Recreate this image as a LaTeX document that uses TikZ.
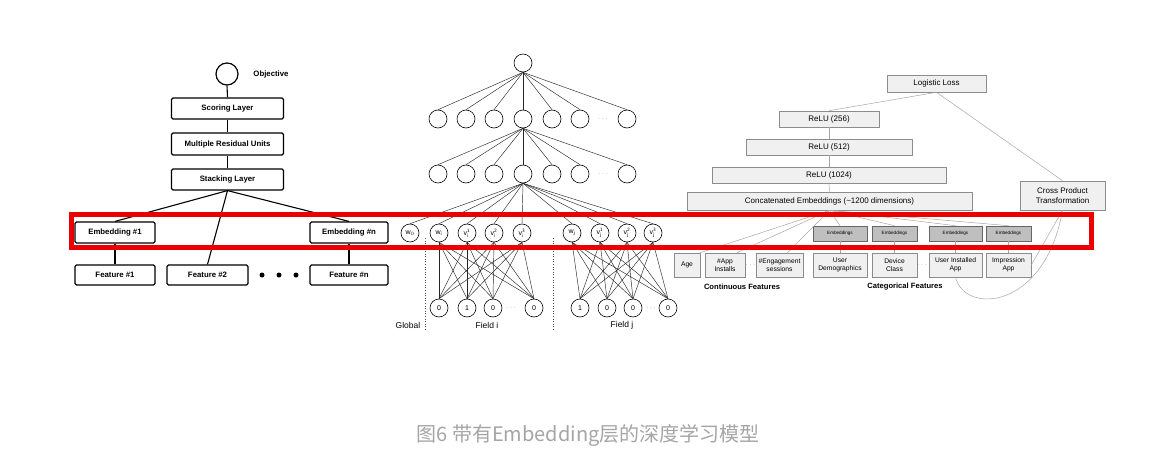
\documentclass[tikz,border=0pt]{standalone}
\usepackage{fontspec}
\setmainfont{Liberation Sans}
\newfontfamily\cjk{Noto Sans CJK SC}
\definecolor{capgray}{RGB}{165,165,165}
\definecolor{redframe}{RGB}{235,0,0}
\begin{document}
\begin{tikzpicture}[x=1pt,y=-1pt,
 dc/.style={draw,line width=1.2pt,rounded corners=1.5pt,font=\bfseries\fontsize{7.8}{9}\selectfont,inner sep=0pt,fill=white},
 dcline/.style={line width=1.1pt},
 nn/.style={draw,circle,minimum size=18pt,inner sep=0pt,line width=0.6pt,font=\fontsize{7}{7}\selectfont},
 fnnline/.style={line width=0.45pt,black!85},
 wd/.style={draw=black!45,fill=black!6,inner sep=0pt,font=\fontsize{8}{9.5}\selectfont,align=center,line width=0.6pt},
 wdf/.style={wd,font=\fontsize{6.7}{7.8}\selectfont,minimum height=24pt},
 wde/.style={draw=black!60,fill=black!25,inner sep=0pt,font=\fontsize{4.6}{5}\selectfont,minimum height=15pt,line width=0.6pt},
 wdline/.style={draw=black!35,line width=0.5pt},
 lbl/.style={inner sep=0pt},
 dotsym/.style={inner sep=0pt,text=black!50,font=\fontsize{7}{7}\selectfont}
]
\useasboundingbox (0,0) rectangle (1151,460);

% ---------------- Deep Crossing ----------------
\node[draw,circle,line width=1.2pt,minimum size=22pt,inner sep=0pt] (obj) at (227,74) {};
\node[lbl,font=\bfseries\fontsize{7.8}{9}\selectfont] (objl) at (271,74) {Objective};
\node[dc,minimum width=112pt,minimum height=21pt] (score) at (227.5,108.5) {Scoring Layer};
\node[dc,minimum width=112pt,minimum height=22pt] (mru) at (227.5,144) {Multiple Residual Units};
\node[dc,minimum width=112pt,minimum height=21pt] (stack) at (227.5,179.5) {Stacking Layer};
\node[dc,minimum width=80pt,minimum height=21pt] (emb1) at (115,232.5) {Embedding \#1};
\node[dc,minimum width=78pt,minimum height=21pt] (embn) at (349,232.5) {Embedding \#n};
\node[dc,minimum width=80pt,minimum height=20pt] (f1) at (115,275) {Feature \#1};
\node[dc,minimum width=81pt,minimum height=20pt] (f2) at (207.5,275) {Feature \#2};
\node[dc,minimum width=78pt,minimum height=20pt] (fn) at (349,275) {Feature \#n};
\foreach \k/\x in {1/262,2/279,3/296}
  \node[circle,fill=black,minimum size=5pt,inner sep=0pt] (bd\k) at (\x,275) {};
\draw[dcline] (obj.south) -- (score.north);
\draw[dcline] (score) -- (mru);
\draw[dcline] (mru) -- (stack);
\draw[dcline] (stack.south) -- (emb1.north);
\draw[dcline] (stack.south) -- (embn.north);
\draw[dcline] (stack.south) -- (f2.north);
\draw[dcline] (emb1) -- (f1);
\draw[dcline] (embn) -- (fn);

% ---------------- FNN ----------------
\node[nn] (top) at (523,63) {};
\foreach \i/\x in {1/438,2/466,3/494,4/523,5/552,6/580,7/627}{
  \node[nn] (ha\i) at (\x,119) {};
  \node[nn] (hb\i) at (\x,174) {};
}
\node[dotsym] (hadots) at (603,119) {$\cdots$};
\node[dotsym] (hbdots) at (603,174) {$\cdots$};
\node[nn] (e0) at (410,233) {w$_0$};
\node[nn] (ei0) at (439,233) {w$_{\mathsf{i}}$};
\node[nn] (ei1) at (467,233) {v$_{\mathsf{i}}^{\mathsf{1}}$};
\node[nn] (ei2) at (494,233) {v$_{\mathsf{i}}^{\mathsf{2}}$};
\node[nn] (ei3) at (522,233) {v$_{\mathsf{i}}^{\mathsf{3}}$};
\node[nn] (ej0) at (572,233) {w$_{\mathsf{j}}$};
\node[nn] (ej1) at (600,233) {v$_{\mathsf{j}}^{\mathsf{1}}$};
\node[nn] (ej2) at (627,233) {v$_{\mathsf{j}}^{\mathsf{2}}$};
\node[nn] (ej3) at (653,233) {v$_{\mathsf{j}}^{\mathsf{3}}$};
\foreach \i/\x/\t in {1/439/0,2/467/1,3/493/0,4/534/0}
  \node[nn] (xi\i) at (\x,308) {\t};
\foreach \i/\x/\t in {1/580/1,2/607/0,3/633/0,4/668/0}
  \node[nn] (xj\i) at (\x,308) {\t};
\node[dotsym] (xidots) at (511,308) {$\cdots$};
\node[dotsym] (xjdots) at (651,308) {$\cdots$};
\foreach \i in {1,...,7}{
  \draw[fnnline] (top.south) -- (ha\i.north);
  \draw[fnnline] (ha4.south) -- (hb\i.north);
}
\foreach \n in {e0,ei0,ei1,ei2,ei3,ej0,ej1,ej2,ej3}
  \draw[fnnline] (hb4.south) -- (\n.north);
\foreach \a in {1,...,4}
  \foreach \b in {0,...,3}{
    \draw[fnnline] (xi\a.north) -- (ei\b.south);
    \draw[fnnline] (xj\a.north) -- (ej\b.south);
  }
\coordinate (g1) at (425,238);
\coordinate (g2) at (425,331);
\coordinate (g3) at (553,238);
\coordinate (g4) at (553,331);
\draw[dotted,line width=0.6pt,black!70] (g1) -- (g2);
\draw[dotted,line width=0.6pt,black!70] (g3) -- (g4);
\node[lbl,font=\fontsize{8.5}{9}\selectfont] (glob) at (408,325) {Global};
\node[lbl,font=\fontsize{8.5}{9}\selectfont] (fieldi) at (487,325) {Field i};
\node[lbl,font=\fontsize{8.5}{9}\selectfont] (fieldj) at (622,325) {Field j};

% ---------------- Wide & Deep ----------------
\node[wd,minimum width=99pt,minimum height=17pt] (ll) at (936.5,83.5) {Logistic Loss};
\node[wd,minimum width=100pt,minimum height=16pt] (r256) at (829,119) {ReLU (256)};
\node[wd,minimum width=166pt,minimum height=16pt] (r512) at (829,147) {ReLU (512)};
\node[wd,minimum width=234pt,minimum height=16pt] (r1024) at (829,175) {ReLU (1024)};
\node[wd,minimum width=285pt,minimum height=18pt] (concat) at (829.5,201) {Concatenated Embeddings (\textasciitilde 1200 dimensions)};
\node[wd,minimum width=85pt,minimum height=29pt] (cross) at (1062.5,195.5) {Cross Product\\Transformation};
\node[wdf,minimum width=26pt] (age) at (687,265) {Age};
\node[wdf,minimum width=40pt] (app) at (725,265) {\#App\\Installs};
\node[wdf,minimum width=47pt] (eng) at (779.5,265) {\#Engagement\\sessions};
\node[wdf,minimum width=54pt] (udem) at (840,265) {User\\Demographics};
\node[wdf,minimum width=45pt] (dev) at (894.5,265) {Device\\Class};
\node[wdf,minimum width=53pt] (uia) at (955.5,265) {User Installed\\App};
\node[wdf,minimum width=45pt] (imp) at (1008.5,265) {Impression\\App};
\node[dotsym] (wdots1) at (750.5,265) {$\cdots$};
\node[dotsym] (wdots2) at (922,265) {$\cdots$};
\node[wde,minimum width=54pt] (eudem) at (840,233.5) {Embeddings};
\node[wde,minimum width=45pt] (edev) at (894.5,233.5) {Embeddings};
\node[wde,minimum width=53pt] (euia) at (955.5,233.5) {Embeddings};
\node[wde,minimum width=45pt] (eimp) at (1008.5,233.5) {Embeddings};
\node[lbl,font=\bfseries\fontsize{7.6}{9}\selectfont] (contl) at (742,287) {Continuous Features};
\node[lbl,font=\bfseries\fontsize{7.6}{9}\selectfont] (catl) at (905,287) {Categorical Features};
\draw[wdline] (r256.north) -- (ll.south);
\draw[wdline] (ll.south) -- (cross.north);
\draw[wdline] (r256) -- (r512);
\draw[wdline] (r512) -- (r1024);
\draw[wdline] (r1024) -- (concat);
\draw[wdline] (concat.south) -- (age.north east);
\draw[wdline] (concat.south) -- ([xshift=12pt]app.north);
\draw[wdline] (concat.south) -- ([xshift=8pt]eng.north);
\foreach \n in {eudem,edev,euia,eimp}
  \draw[wdline] (concat.south) -- (\n.north);
\draw[wdline] (eudem) -- (udem);
\draw[wdline] (edev) -- (dev);
\draw[wdline] (euia) -- (uia);
\draw[wdline] (eimp) -- (imp);
\draw[wdline] (cross.south) -- (imp.east);
\draw[wdline] (uia.south) .. controls (965,315) and (1045,310) .. (cross.south);

% ---------------- red frame ----------------
\coordinate (rf1) at (71.5,214.5);
\coordinate (rf2) at (1091.5,247.5);
\draw[redframe,line width=5pt] (rf1) rectangle (rf2);

% ---------------- caption ----------------
\node[lbl,text=capgray,font=\cjk\fontsize{20}{22}\selectfont] (caption) at (588,436) {图6 带有Embedding层的深度学习模型};
\end{tikzpicture}
\end{document}
